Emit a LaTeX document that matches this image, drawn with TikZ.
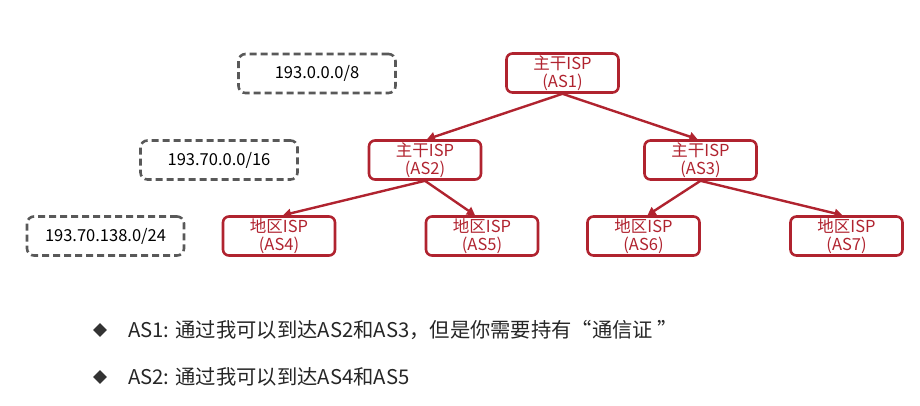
\documentclass[tikz,border=0pt]{standalone}
\usepackage{fontspec}
\setmainfont{Noto Sans CJK SC}
\usetikzlibrary{arrows.meta,shapes.geometric}
\definecolor{asred}{HTML}{B0232F}
\definecolor{dgray}{HTML}{595959}
\begin{document}
\begin{tikzpicture}[x=1pt,y=-1pt,
  asbox/.style={draw=asred, line width=2.6pt, rounded corners=6pt, text=asred,
    minimum width=112pt, minimum height=39pt, inner sep=0pt, align=center,
    font=\fontsize{16.5}{17.5}\selectfont},
  netbox/.style={draw=dgray, line width=2.6pt, dash pattern=on 7pt off 4pt, rounded corners=7pt,
    minimum width=157pt, minimum height=39pt, inner sep=0pt, align=center,
    font=\fontsize{16.5}{18}\selectfont},
  link/.style={draw=asred, line width=2.4pt, -{Triangle[length=8pt,width=9pt]}},
  bullettext/.style={anchor=west, inner sep=0pt, text=black!85, font=\fontsize{20.3}{22}\selectfont},
  bulletmark/.style={diamond, fill=black!80, inner sep=0pt, minimum size=14pt}
]
\useasboundingbox (0,0) rectangle (920,405);
\node[asbox] (as1) at (562.5,73) {主干ISP\\(AS1)};
\node[asbox] (as2) at (425,160) {主干ISP\\(AS2)};
\node[asbox] (as3) at (700.5,160) {主干ISP\\(AS3)};
\node[asbox] (as4) at (279,236) {地区ISP\\(AS4)};
\node[asbox] (as5) at (482,236) {地区ISP\\(AS5)};
\node[asbox] (as6) at (643.5,236) {地区ISP\\(AS6)};
\node[asbox] (as7) at (846.5,236) {地区ISP\\(AS7)};
\node[netbox] (n1) at (317,73.5) {193.0.0.0/8};
\node[netbox] (n2) at (219,160) {193.70.0.0/16};
\node[netbox] (n3) at (105.5,236) {193.70.138.0/24};
\draw[link] (as1.south) -- ([xshift=2pt]as2.north);
\draw[link] (as1.south) -- ([xshift=-3pt]as3.north);
\draw[link] (as2.south) -- ([xshift=4pt]as4.north);
\draw[link] (as2.south) -- ([xshift=-7pt]as5.north);
\draw[link] (as3.south) -- ([xshift=4pt]as6.north);
\draw[link] (as3.south) -- ([xshift=-4pt]as7.north);
\node[bulletmark] (b1) at (100,330) {};
\node[bullettext] (t1) at (128,330) {AS1: 通过我可以到达AS2和AS3，但是你需要持有“通信证 ”};
\node[bulletmark] (b2) at (100,377) {};
\node[bullettext] (t2) at (128,377) {AS2: 通过我可以到达AS4和AS5};
\end{tikzpicture}
\end{document}
